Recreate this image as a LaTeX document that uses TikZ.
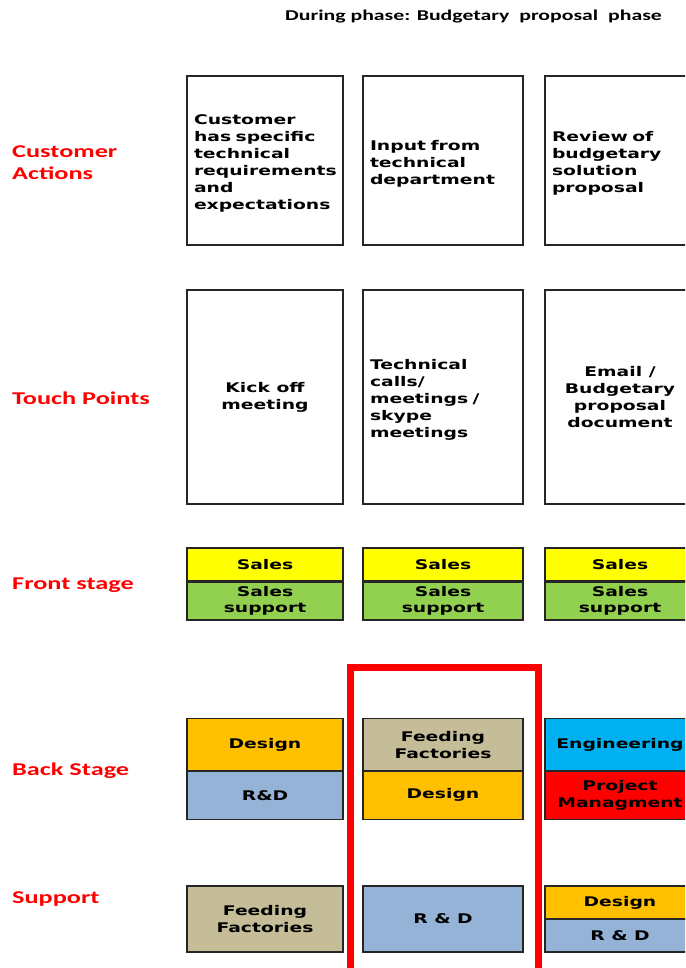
\documentclass[tikz,border=0pt]{standalone}
\usepackage{fontspec}
\newfontfamily\boxfont{DejaVu Sans Bold}[FakeStretch=1.41]
\newfontfamily\labelfont{Carlito Bold}[FakeStretch=1.46]
\newfontfamily\titlefont{Carlito Bold}[FakeStretch=1.45]
\definecolor{salesyellow}{HTML}{FFFF00}
\definecolor{supportgreen}{HTML}{92D050}
\definecolor{designorange}{HTML}{FFC000}
\definecolor{rdblue}{HTML}{95B3D7}
\definecolor{feedkhaki}{HTML}{C4BD97}
\definecolor{engcyan}{HTML}{00B0F0}
\definecolor{pmred}{HTML}{FF0000}
\definecolor{lanered}{HTML}{FF0000}
\tikzset{
  x=1pt, y=-1pt,
  cell/.style={draw=black!85, line width=1.2pt, rectangle, inner sep=0pt,
    font={\boxfont\fontsize{13.3}{17}\selectfont}, align=center},
  leftcell/.style={cell, align=left, inner xsep=7pt,
    execute at begin node={\rule{0pt}{16pt}}},
  lane/.style={anchor=west, text=lanered, align=left, inner sep=0pt,
    font={\labelfont\fontsize{18}{22}\selectfont}},
}
\begin{document}
\begin{tikzpicture}
\clip (0,0) rectangle (685,968);
\fill[white] (0,0) rectangle (685,968);

% heading
\node[font={\titlefont\fontsize{15}{17}\selectfont}, inner sep=0pt] (title) at (473.5,17)
  {During phase: Budgetary\ \ proposal\ \ phase};

% lane labels
\node[lane] (lca) at (12,163) {Customer\\Actions};
\node[lane] (ltp) at (12,398) {Touch Points};
\node[lane] (lfs) at (12,585) {Front stage};
\node[lane] (lbs) at (12,771) {Back Stage};
\node[lane] (lsu) at (12,899) {Support};

% customer actions
\node[leftcell, text width=142pt, minimum height=169pt] (ca1) at (265,160.5)
  {Customer\\has specific\\technical\\requirements\\and\\expectations};
\node[leftcell, text width=146pt, minimum height=169pt] (ca2) at (443,160.5)
  {Input from\\technical\\department};
\node[leftcell, text width=136pt, minimum height=169pt] (ca3) at (620,160.5)
  {Review of\\budgetary\\solution\\proposal};

% touch points
\node[cell, minimum width=156pt, minimum height=214pt] (tp1) at (265,397)
  {Kick off\\meeting};
\node[leftcell, text width=146pt, minimum height=214pt] (tp2) at (443,397)
  {Technical\\calls/\\meetings /\\skype\\meetings};
\node[cell, minimum width=150pt, minimum height=214pt] (tp3) at (620,397)
  {Email /\\Budgetary\\proposal\\document};

% front stage
\foreach \n/\cx/\w in {1/265/156, 2/443/160, 3/620/150}{
  \node[cell, fill=salesyellow, minimum width=\w pt, minimum height=33pt] (fs\n a) at (\cx,564.5) {Sales};
  \node[cell, fill=supportgreen, minimum width=\w pt, minimum height=38pt,
    font={\boxfont\fontsize{13.3}{16}\selectfont}] (fs\n b) at (\cx,601) {Sales\\support};
}

% back stage
\node[cell, fill=designorange, minimum width=156pt, minimum height=52.5pt] (bs1a) at (265,744.75) {Design};
\node[cell, fill=rdblue, minimum width=156pt, minimum height=48.5pt] (bs1b) at (265,795.25) {R\&D};
\node[cell, fill=feedkhaki, minimum width=160pt, minimum height=52.5pt] (bs2a) at (443,744.75) {Feeding\\Factories};
\node[cell, fill=designorange, minimum width=160pt, minimum height=48.5pt] (bs2b) at (443,795.25) {Design};
\node[cell, fill=engcyan, minimum width=150pt, minimum height=52.5pt] (bs3a) at (620,744.75) {Engineering};
\node[cell, fill=pmred, minimum width=150pt, minimum height=48.5pt] (bs3b) at (620,795.25) {Project\\Managment};

% support
\node[cell, fill=feedkhaki, minimum width=156pt, minimum height=66pt] (su1) at (265,919) {Feeding\\Factories};
\node[cell, fill=rdblue, minimum width=160pt, minimum height=66pt] (su2) at (443,919) {R \& D};
\node[cell, fill=designorange, minimum width=150pt, minimum height=33pt] (su3a) at (620,902.5) {Design};
\node[cell, fill=rdblue, minimum width=150pt, minimum height=33pt] (su3b) at (620,935.5) {R \& D};

% highlight frame around the middle column
\node[draw=lanered, line width=7pt, rectangle, inner sep=0pt,
  minimum width=187.5pt, minimum height=340pt] (focus) at (444.25,837.5) {};
\end{tikzpicture}
\end{document}
